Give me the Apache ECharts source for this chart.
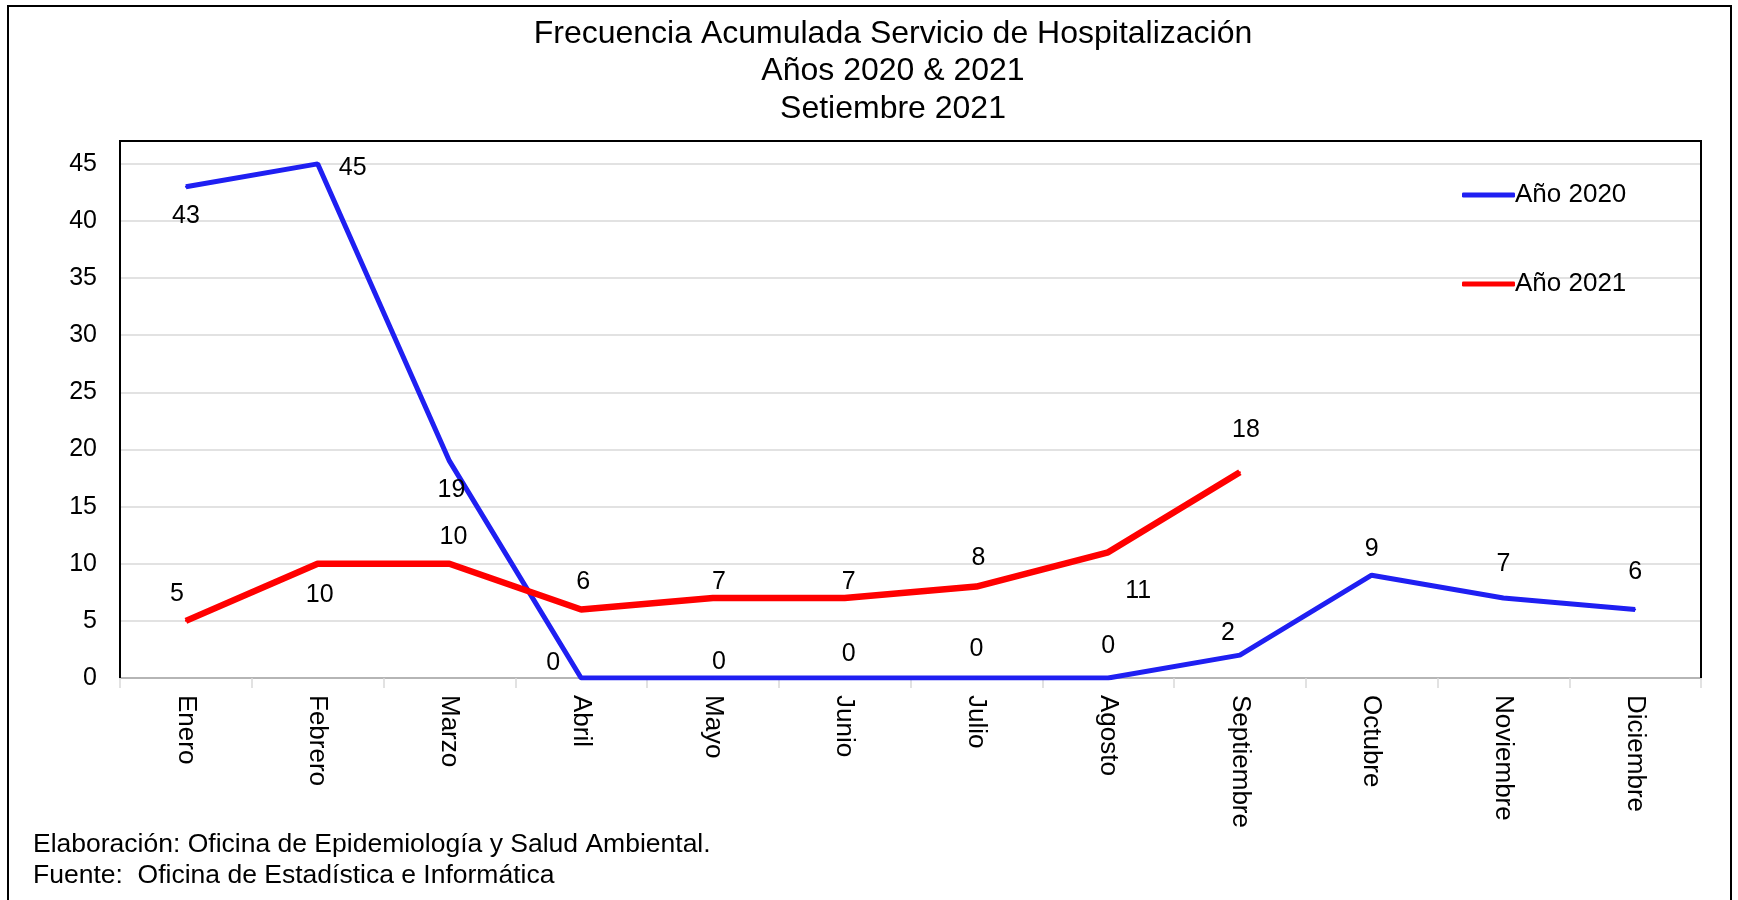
<!DOCTYPE html>
<html><head><meta charset="utf-8">
<script src="https://cdn.jsdelivr.net/npm/echarts@6/dist/echarts.min.js"></script>
<style>html,body{margin:0;padding:0;background:#fff}#c{width:1738px;height:900px}</style>
</head><body><div id="c"></div>
<script>
const categories = ['Enero','Febrero','Marzo','Abril','Mayo','Junio','Julio','Agosto','Septiembre','Octubre','Noviembre','Diciembre'];
const values2020 = [43, 45, 19, 0, 0, 0, 0, 0, 2, 9, 7, 6];
const values2021 = [5, 10, 10, 6, 7, 7, 8, 11, 18];
const seriesNames = ['Año 2020', 'Año 2021'];
const titleLines = ['Frecuencia Acumulada Servicio de Hospitalización', 'Años 2020 & 2021', 'Setiembre 2021'];
const footerLines = ['Elaboración: Oficina de Epidemiología y Salud Ambiental.', 'Fuente:  Oficina de Estadística e Informática'];

// label offsets (px) relative to each point
const off2020 = [[0,29],[35,4],[2,29],[-28,-15],[6,-16],[4,-24],[0,-29],[0,-32],[-12,-22],[0,-26],[0,-34],[0,-37]];
const off2021 = [[-9,-27],[2,31],[4,-27],[2,-27],[6,-16],[4,-16],[2,-28],[30,39],[6,-42]];

const FONT = '"Liberation Sans", Arial, sans-serif';
const BLUE = '#1f1ff2', RED = '#ff0000';
const G = { left: 120, right: 37, top: 141, bottom: 222 };

function mk(vals, offs) {
  return vals.map((v, i) => ({ value: v, label: { offset: offs[i] } }));
}

const chart = echarts.init(document.getElementById('c'), null, { renderer: 'canvas' });
const x0 = G.left, x1 = 1738 - G.right, y0 = 900 - G.bottom, y1 = G.top;
const graphics = [
  { type: 'rect', shape: { x: 8, y: 6, width: 1723, height: 900 }, style: { fill: 'none', stroke: '#000', lineWidth: 2 }, silent: true },
  { type: 'polyline', z: 100, shape: { points: [[x0, y0], [x0, y1], [x1, y1], [x1, y0]] }, style: { fill: 'none', stroke: '#000', lineWidth: 2 }, silent: true }
];
titleLines.forEach((t, i) => graphics.push({
  type: 'text', x: 893, y: 34 + i * 37.5,
  style: { text: t, fill: '#000', font: '32px ' + FONT, textAlign: 'center', textVerticalAlign: 'middle' }
}));
footerLines.forEach((t, i) => graphics.push({
  type: 'text', x: 33, y: 845 + i * 31,
  style: { text: t, fill: '#000', font: '26.5px ' + FONT, textAlign: 'left', textVerticalAlign: 'middle' }
}));

const legendCommon = {
  orient: 'vertical', left: 1457, icon: 'roundRect',
  itemWidth: 53, itemHeight: 5,
  textStyle: { fontFamily: FONT, fontSize: 26, color: '#000', lineHeight: 26, padding: [0,0,0,-5] }
};

chart.setOption({
  animation: false,
  backgroundColor: '#fff',
  graphic: graphics,
  grid: { left: G.left, right: G.right, top: G.top, bottom: G.bottom },
  legend: [
    Object.assign({}, legendCommon, { top: 177, data: [seriesNames[0]] }),
    Object.assign({}, legendCommon, { top: 266, data: [seriesNames[1]] })
  ],
  xAxis: {
    type: 'category', data: categories, boundaryGap: true,
    axisLine: { lineStyle: { color: '#a6a6a6', width: 1.5 } },
    axisTick: { show: true, length: 10, lineStyle: { color: '#d9d9d9', width: 1.5 } },
    axisLabel: { rotate: -90, color: '#000', fontFamily: FONT, fontSize: 26, margin: 17 },
    splitLine: { show: false }
  },
  yAxis: {
    type: 'value', min: 0, max: 47, interval: 5,
    axisLine: { show: false }, axisTick: { show: false },
    axisLabel: { color: '#000', fontFamily: FONT, fontSize: 25, margin: 23, showMaxLabel: false,
      formatter: v => (v % 5 === 0 ? String(v) : '') },
    splitLine: { lineStyle: { color: '#d9d9d9', width: 1.5 } }
  },
  series: [
    {
      name: seriesNames[0], type: 'line', data: mk(values2020, off2020),
      symbol: 'circle', symbolSize: 2, showSymbol: true,
      itemStyle: { color: BLUE }, lineStyle: { color: BLUE, width: 5 },
      label: { show: true, position: 'inside', color: '#000', fontFamily: FONT, fontSize: 25 },
      z: 3
    },
    {
      name: seriesNames[1], type: 'line', data: mk(values2021, off2021),
      symbol: 'circle', symbolSize: 2, showSymbol: true,
      itemStyle: { color: RED }, lineStyle: { color: RED, width: 6.5 },
      label: { show: true, position: 'inside', color: '#000', fontFamily: FONT, fontSize: 25 },
      z: 4
    }
  ]
});
</script></body></html>
